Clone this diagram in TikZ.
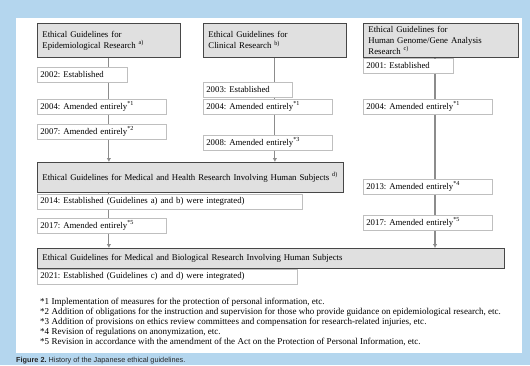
\documentclass[tikz,border=0pt]{standalone}
\usepackage{fontspec}
\setmainfont{Liberation Serif}
\newfontfamily\capfont{Liberation Sans}
\usetikzlibrary{arrows.meta}
\definecolor{panelblue}{RGB}{180,214,238}

\begin{document}
\frenchspacing
\begin{tikzpicture}[x=1pt, y=-1pt, >={Latex[length=4pt,width=4.5pt]},
  every node/.style={font=\fontsize{8.8}{11}\selectfont},
  hdr/.style={draw=black!72, fill=black!12, line width=0.8pt, anchor=north west,
    align=left, inner xsep=5pt, inner ysep=0pt},
  yr/.style={draw=black!25, fill=white, line width=0.6pt, anchor=north west,
    align=left, inner xsep=3pt, inner ysep=0pt, minimum height=15pt},
  link/.style={draw=black!45, line width=1.1pt},
  note/.style={anchor=base west, inner sep=0pt, font=\fontsize{9.05}{11}\selectfont}]
% frame
\fill[panelblue] (0,0) rectangle (530,365);
\fill[white] (16,18) rectangle (522,353);
\useasboundingbox (0,0) rectangle (530,365);
% Epidemiological research
\node[hdr, text width=133pt, minimum height=34pt] (epi) at (37,23)
  {Ethical Guidelines for\\Epidemiological Research \textsuperscript{a)}};
\node[yr, text width=84pt] (e02) at (37,67) {2002: Established};
\node[yr, text width=123pt] (e04) at (37,99) {2004: Amended entirely\textsuperscript{*1}};
\node[yr, text width=123pt] (e07) at (37,124) {2007: Amended entirely\textsuperscript{*2}};
% Clinical research
\node[hdr, text width=133pt, minimum height=34pt] (cli) at (203,23)
  {Ethical Guidelines for\\Clinical Research \textsuperscript{b)}};
\node[yr, text width=83pt] (c03) at (203,82) {2003: Established};
\node[yr, text width=123pt] (c04) at (203,99) {2004: Amended entirely\textsuperscript{*1}};
\node[yr, text width=123pt] (c08) at (203,135) {2008: Amended entirely\textsuperscript{*3}};
% Human genome / gene analysis research
\node[hdr, text width=145pt, minimum height=34pt] (gen) at (363,23)
  {Ethical Guidelines for\\Human Genome/Gene Analysis\\Research \textsuperscript{c)}};
\node[yr, text width=84pt] (g01) at (363,58) {2001: Established};
\node[yr, text width=123pt] (g04) at (363,99) {2004: Amended entirely\textsuperscript{*1}};
\node[yr, text width=123pt] (g13) at (363,179) {2013: Amended entirely\textsuperscript{*4}};
\node[yr, text width=123pt] (g17) at (363,215) {2017: Amended entirely\textsuperscript{*5}};
% Medical and health research
\node[hdr, text width=296pt, minimum height=30pt] (mhr) at (37,162)
  {Ethical Guidelines for Medical and Health Research Involving Human Subjects \textsuperscript{d)}};
\node[yr, text width=259pt] (m14) at (37,194) {2014: Established (Guidelines a) and b) were integrated)};
\node[yr, text width=123pt] (m17) at (37,218) {2017: Amended entirely\textsuperscript{*5}};
% Medical and biological research
\node[hdr, text width=457pt, minimum height=20pt] (mbr) at (37,248)
  {Ethical Guidelines for Medical and Biological Research Involving Human Subjects};
\node[yr, text width=254pt] (b21) at (37,269) {2021: Established (Guidelines c) and d) were integrated)};
% notes
\node[note] (n1) at (40,304) {*1 Implementation of measures for the protection of personal information, etc.};
\node[note] (n2) at (40,314.2) {*2 Addition of obligations for the instruction and supervision for those who provide guidance on epidemiological research, etc.};
\node[note] (n3) at (40,324.4) {*3 Addition of provisions on ethics review committees and compensation for research-related injuries, etc.};
\node[note] (n4) at (40,334.6) {*4 Revision of regulations on anonymization, etc.};
\node[note] (n5) at (40,344.8) {*5 Revision in accordance with the amendment of the Act on the Protection of Personal Information, etc.};
\node[anchor=base west, inner sep=0pt, text=black!85, font=\capfont\fontsize{7.3}{9}\selectfont]
  (cap) at (16,362.6) {\textbf{Figure 2.} History of the Japanese ethical guidelines.};
% links, column 1
\draw[link] (epi.south) -- (e02.north -| epi.south);
\draw[link] (e02.south -| epi.south) -- (e04.north -| epi.south);
\draw[link] (e04.south -| epi.south) -- (e07.north -| epi.south);
\draw[link,->] (e07.south -| epi.south) -- (mhr.north -| epi.south);
\draw[link] (mhr.south -| epi.south) -- (m14.north -| epi.south);
\draw[link] (m14.south -| epi.south) -- (m17.north -| epi.south);
\draw[link,->] (m17.south -| epi.south) -- (mbr.north -| epi.south);
% links, column 2
\draw[link] (cli.south) -- (c03.north -| cli.south);
\draw[link] (c03.south -| cli.south) -- (c04.north -| cli.south);
\draw[link] (c04.south -| cli.south) -- (c08.north -| cli.south);
\draw[link,->] (c08.south -| cli.south) -- (mhr.north -| cli.south);
% links, column 3
\coordinate (gx) at (435,0);
\draw[link] (gen.south -| gx) -- (g01.north -| gx);
\draw[link] (g01.south -| gx) -- (g04.north -| gx);
\draw[link] (g04.south -| gx) -- (g13.north -| gx);
\draw[link] (g13.south -| gx) -- (g17.north -| gx);
\draw[link,->] (g17.south -| gx) -- (mbr.north -| gx);
\end{tikzpicture}
\end{document}
